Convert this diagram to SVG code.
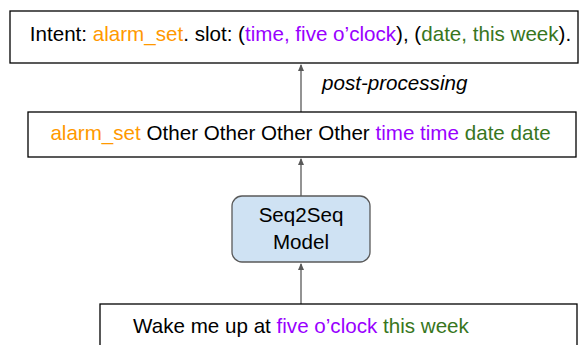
<svg xmlns="http://www.w3.org/2000/svg" width="581" height="345" viewBox="0 0 581 345">
<style>
text{font-family:"Liberation Sans",Arial,sans-serif;font-size:20.6px;fill:#000}
.box{fill:#fff;stroke:#000;stroke-width:1.3}
.o{fill:#ff9900}.p{fill:#9900ff}.g{fill:#38761d}
.c{stroke:#595959;stroke-width:1.3;fill:none}
</style>
<defs><marker id="a" markerWidth="8" markerHeight="8" refX="6" refY="4" orient="auto" markerUnits="userSpaceOnUse"><path d="M0,1 L7,4 L0,7 Z" fill="#595959"/></marker></defs>
<g id="connectors">
<line class="c" x1="301" y1="304" x2="301" y2="264" marker-end="url(#a)"/>
<line class="c" x1="301" y1="196" x2="301" y2="159" marker-end="url(#a)"/>
<line class="c" x1="301" y1="112" x2="301" y2="65" marker-end="url(#a)"/>
<text x="322" y="90" style="font-style:italic">post-processing</text>
</g>
<g id="output">
<rect class="box" x="10" y="11" width="568" height="52"/>
<text x="300.5" y="41" text-anchor="middle">Intent: <tspan class="o">alarm_set</tspan>. slot: (<tspan class="p">time, five o’clock</tspan>), (<tspan class="g">date, this week</tspan>).</text>
</g>
<g id="labels">
<rect class="box" x="28" y="112" width="548" height="45"/>
<text x="300.5" y="140" text-anchor="middle"><tspan class="o">alarm_set</tspan> Other Other Other Other <tspan class="p">time time</tspan> <tspan class="g">date date</tspan></text>
</g>
<g id="model">
<rect x="232" y="196" width="138" height="66" rx="10" fill="#cfe2f3" stroke="#595959" stroke-width="1.3"/>
<text x="301" y="222" text-anchor="middle">Seq2Seq</text>
<text x="301" y="249" text-anchor="middle">Model</text>
</g>
<g id="input">
<rect class="box" x="100" y="304" width="477" height="50"/>
<text x="301" y="333" text-anchor="middle">Wake me up at <tspan class="p">five o’clock</tspan> <tspan class="g">this week</tspan></text>
</g>
</svg>
